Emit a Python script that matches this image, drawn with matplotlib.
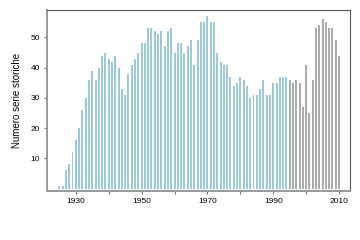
import numpy as np
import matplotlib
matplotlib.use("Agg")
import matplotlib.pyplot as plt

plt.rcParams['font.family'] = ['Liberation Sans', 'DejaVu Sans']

# serie storiche per anno (azzurro fino al 1994, grigio dal 1995)
years_old = np.arange(1925, 1995)
counts_old = [1, 1, 6, 8, 12, 16, 20, 26, 30, 36,
              39, 36, 40, 44, 45, 43, 42, 44, 40, 33,
              31, 38, 41, 43, 45, 48, 48, 53, 53, 52,
              51, 52, 47, 52, 53, 45, 48, 48, 45, 47,
              49, 41, 49, 55, 55, 57, 55, 55, 45, 42,
              41, 41, 37, 34, 35, 37, 36, 34, 30, 31,
              31, 33, 36, 31, 31, 35, 35, 37, 37, 37]
years_new = np.arange(1995, 2011)
counts_new = [36, 35, 36, 35, 27, 41, 25, 36, 53, 54, 56, 55, 53, 53, 49, 44]

xticks = [1930, 1940, 1950, 1960, 1970, 1980, 1990, 2000, 2010]
xlabels = ["1930", "", "1950", "", "1970", "", "1990", "", "2010"]
yticks = [10, 20, 30, 40, 50]

fig = plt.figure(figsize=(3.6, 2.4), dpi=100)
ax = fig.add_axes([0.131, 0.204, 0.841, 0.756])

ax.bar(years_old, counts_old, width=0.6, color="#9ccadb", edgecolor="none")
ax.bar(years_new, counts_new, width=0.6, color="#aaaaaa", edgecolor="none")

ax.set_xlim(1921.3, 2013.3)
ax.set_ylim(-0.8, 59.2)
ax.set_xticks(xticks)
ax.set_xticklabels(xlabels)
ax.set_yticks(yticks)

for s in ["left", "bottom"]:
    ax.spines[s].set_color("#999999")
    ax.spines[s].set_linewidth(1.4)
for s in ["top", "right"]:
    ax.spines[s].set_color("#555555")
    ax.spines[s].set_linewidth(0.8)

ax.tick_params(axis="both", labelsize=6, length=2.5, width=0.8,
               color="#777777", pad=2.5)
ax.set_ylabel("Numero serie storiche", fontsize=7, labelpad=6)

fig.savefig("out.png", dpi=100)
